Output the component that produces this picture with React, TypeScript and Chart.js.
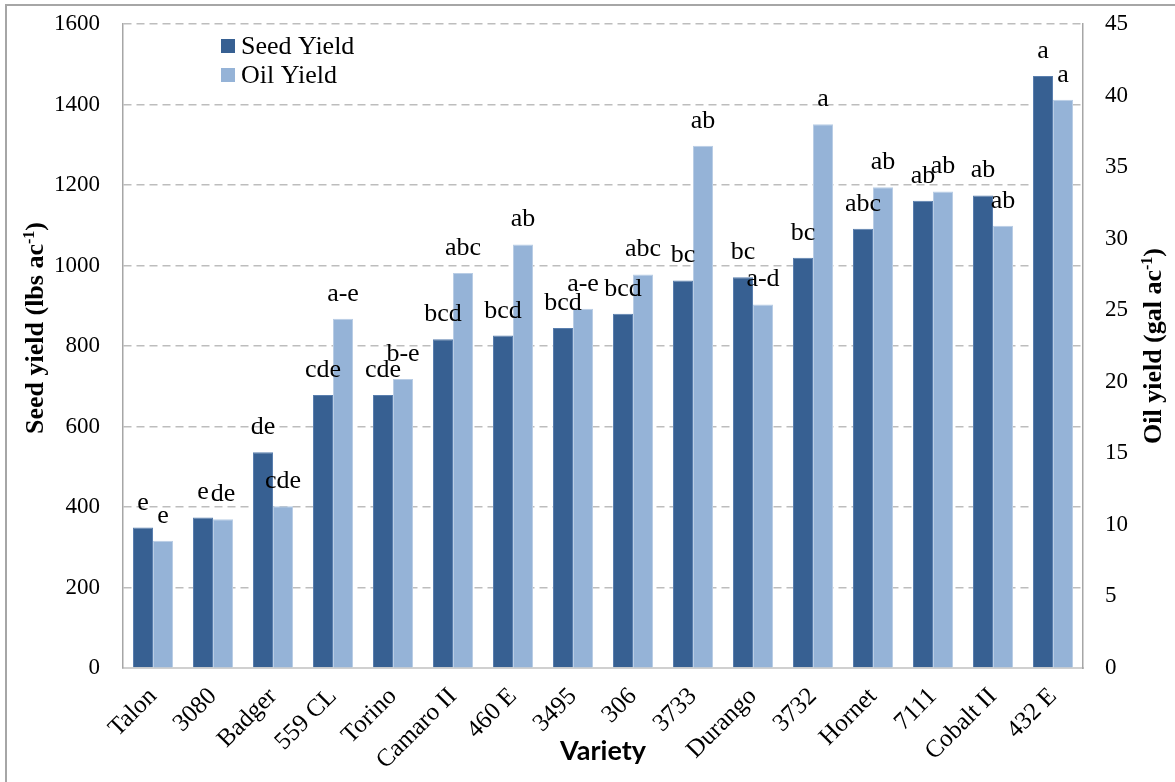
import React, { useEffect, useRef } from 'react';
import { Chart, registerables } from 'chart.js';

Chart.register(...registerables);

const categories = ['Talon', '3080', 'Badger', '559 CL', 'Torino', 'Camaro II', '460 E', '3495', '306', '3733', 'Durango', '3732', 'Hornet', '7111', 'Cobalt II', '432 E'];
const seedYield = [349, 374, 536, 678, 678, 817, 826, 845, 880, 963, 971, 1019, 1091, 1161, 1174, 1471];
const oilYield = [8.9, 10.4, 11.3, 24.4, 20.2, 27.6, 29.6, 25.1, 27.5, 36.5, 25.4, 38.0, 33.6, 33.3, 30.9, 39.7];
const seedLetters = ['e', 'e', 'de', 'cde', 'cde', 'bcd', 'bcd', 'bcd', 'bcd', 'bc', 'bc', 'bc', 'abc', 'ab', 'ab', 'a'];
const oilLetters = ['e', 'de', 'cde', 'a-e', 'b-e', 'abc', 'ab', 'a-e', 'abc', 'ab', 'a-d', 'a', 'ab', 'ab', 'ab', 'a'];
const seedAxis = { min: 0, max: 1600, step: 200 };
const oilAxis = { min: 0, max: 45, step: 5 };

const SERIF = "'Liberation Serif', 'Times New Roman', serif";
const SEED_COLOR = '#376092';
const OIL_COLOR = '#95b3d7';

export default function App() {
  const ref = useRef<HTMLCanvasElement>(null);

  useEffect(() => {
    document.body.style.margin = '0';
    const canvas = ref.current;
    if (!canvas) return;

    const framePlugin = {
      id: 'frame',
      beforeDraw(chart: any) {
        const ctx = chart.ctx;
        ctx.save();
        ctx.fillStyle = '#ffffff';
        ctx.fillRect(0, 0, chart.width, chart.height);
        ctx.strokeStyle = '#a6a6a6';
        ctx.lineWidth = 2;
        ctx.strokeRect(6, 5, 1400, 1000);
        ctx.restore();
      },
    };

    const lettersPlugin = {
      id: 'letters',
      afterDatasetsDraw(chart: any) {
        const ctx = chart.ctx;
        ctx.save();
        ctx.font = `26px ${SERIF}`;
        ctx.fillStyle = '#000';
        ctx.textAlign = 'center';
        ctx.textBaseline = 'alphabetic';
        [seedLetters, oilLetters].forEach((letters, di) => {
          const meta = chart.getDatasetMeta(di);
          meta.data.forEach((bar: any, i: number) => {
            ctx.fillText(letters[i], bar.x, bar.y - 18);
          });
        });
        ctx.restore();
      },
    };

    const legendPlugin = {
      id: 'customLegend',
      afterDraw(chart: any) {
        const ctx = chart.ctx;
        const left = chart.chartArea.left + 98;
        const top = chart.chartArea.top + 15;
        ctx.save();
        ctx.font = `26px ${SERIF}`;
        ctx.textBaseline = 'middle';
        ctx.textAlign = 'left';
        chart.data.datasets.forEach((ds: any, i: number) => {
          const y = top + i * 29;
          ctx.fillStyle = ds.backgroundColor;
          ctx.fillRect(left, y, 14, 14);
          ctx.fillStyle = '#000';
          ctx.fillText(ds.label, left + 20, y + 8);
        });
        ctx.restore();
      },
    };

    const drawRotatedTitle = (ctx: any, cx: number, cy: number, main: string, sup: string, tail: string) => {
      ctx.save();
      ctx.translate(cx, cy);
      ctx.rotate(-Math.PI / 2);
      ctx.fillStyle = '#000';
      ctx.textBaseline = 'alphabetic';
      ctx.textAlign = 'left';
      const big = `bold 26px ${SERIF}`;
      const small = `bold 16px ${SERIF}`;
      ctx.font = big;
      const w1 = ctx.measureText(main).width;
      const w3 = ctx.measureText(tail).width;
      ctx.font = small;
      const w2 = ctx.measureText(sup).width;
      const total = w1 + w2 + w3;
      let x = -total / 2;
      ctx.font = big;
      ctx.fillText(main, x, 0);
      x += w1;
      ctx.font = small;
      ctx.fillText(sup, x, -9);
      x += w2;
      ctx.font = big;
      ctx.fillText(tail, x, 0);
      ctx.restore();
    };

    const axisTitlesPlugin = {
      id: 'axisTitles',
      afterDraw(chart: any) {
        const ctx = chart.ctx;
        drawRotatedTitle(ctx, 43, 328, 'Seed yield (lbs ac', '-1', ')');
        drawRotatedTitle(ctx, 1161, 346, 'Oil yield (gal ac', '-1', ')');
      },
    };

    const plainTick = (v: any) => String(v);

    const chart = new Chart(canvas, {
      type: 'bar',
      data: {
        labels: categories,
        datasets: [
          {
            label: 'Seed Yield',
            data: seedYield,
            yAxisID: 'y',
            backgroundColor: SEED_COLOR,
            borderColor: '#5a7fae',
            borderWidth: 1,
            categoryPercentage: 0.6667,
            barPercentage: 1,
          },
          {
            label: 'Oil Yield',
            data: oilYield,
            yAxisID: 'y1',
            backgroundColor: OIL_COLOR,
            borderColor: '#b9cde5',
            borderWidth: 1,
            categoryPercentage: 0.6667,
            barPercentage: 1,
          },
        ],
      },
      options: {
        responsive: false,
        animation: false,
        devicePixelRatio: 1,
        layout: { padding: { top: 24, left: 0, right: 0, bottom: 0 } },
        plugins: {
          legend: { display: false },
          tooltip: { enabled: false },
        },
        scales: {
          x: {
            grid: { display: false },
            border: { display: true, color: '#d0d0d0', width: 2 },
            ticks: {
              autoSkip: false,
              minRotation: 45,
              maxRotation: 45,
              color: '#000',
              padding: 6,
              font: { family: SERIF, size: 25 },
            },
            title: {
              display: true,
              text: 'Variety',
              color: '#000',
              font: { family: "Lato, 'Open Sans', sans-serif", weight: 'bold', size: 27 },
              padding: { top: 0, bottom: 15 },
            },
            afterFit: (s: any) => {
              s.height = 114;
            },
          },
          y: {
            position: 'left',
            min: seedAxis.min,
            max: seedAxis.max,
            ticks: {
              stepSize: seedAxis.step,
              color: '#000',
              padding: 23,
              font: { family: SERIF, size: 23 },
              callback: plainTick,
            },
            grid: {
              drawTicks: false,
              lineWidth: 1.5,
              color: (c: any) => (c.tick && c.tick.value === 0 ? 'rgba(0,0,0,0)' : '#bdbdbd'),
            },
            border: { display: true, color: '#a6a6a6', width: 1.5, dash: [8, 5] },
            afterFit: (s: any) => {
              s.width = 123;
              s.paddingTop = 0;
              s.paddingBottom = 0;
            },
          },
          y1: {
            position: 'right',
            min: oilAxis.min,
            max: oilAxis.max,
            ticks: {
              stepSize: oilAxis.step,
              color: '#000',
              padding: 22,
              font: { family: SERIF, size: 23 },
              callback: plainTick,
            },
            grid: { drawOnChartArea: false, drawTicks: false },
            border: { display: true, color: '#a6a6a6', width: 1.5 },
            afterFit: (s: any) => {
              s.width = 92;
              s.paddingTop = 0;
              s.paddingBottom = 0;
            },
          },
        },
      } as any,
      plugins: [framePlugin, lettersPlugin, legendPlugin, axisTitlesPlugin],
    });

    return () => {
      chart.destroy();
    };
  }, []);

  return (
    <div style={{ width: 1175, height: 782, position: 'relative' }}>
      <canvas ref={ref} width={1175} height={782} style={{ display: 'block', width: 1175, height: 782 }} />
    </div>
  );
}
